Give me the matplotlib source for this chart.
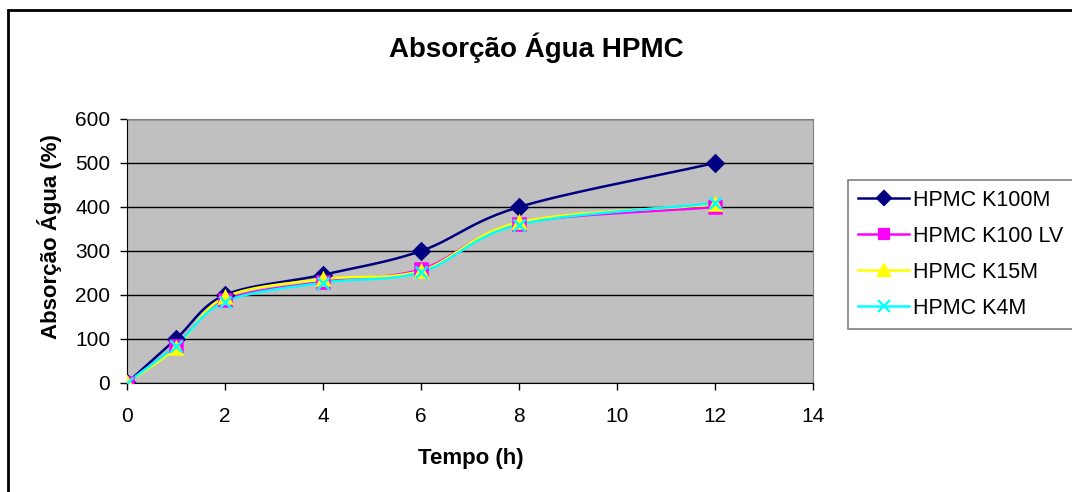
import numpy as np
import matplotlib.pyplot as plt
from matplotlib.patches import Rectangle

plt.rcParams['font.family'] = ['Liberation Sans', 'DejaVu Sans']

tempo = [0, 1, 2, 4, 6, 8, 12]
k100m = [0, 100, 200, 246, 300, 400, 500]
k100lv = [0, 85, 188, 230, 258, 362, 400]
k15m = [0, 80, 195, 236, 255, 365, 406]
k4m = [0, 85, 185, 228, 252, 360, 409]

series = [
    ("HPMC K100M", k100m, "#000080", "D", 8),
    ("HPMC K100 LV", k100lv, "#FF00FF", "s", 8),
    ("HPMC K15M", k15m, "#FFFF00", "^", 9),
    ("HPMC K4M", k4m, "#00FFFF", "x", 9),
]


def smooth(x, y, n=30):
    # curva suavizada tipo Excel (Catmull-Rom)
    x = np.asarray(x, float)
    y = np.asarray(y, float)
    px = np.concatenate([[2 * x[0] - x[1]], x, [2 * x[-1] - x[-2]]])
    py = np.concatenate([[2 * y[0] - y[1]], y, [2 * y[-1] - y[-2]]])
    xs, ys = [], []
    t = np.linspace(0, 1, n)
    for i in range(1, len(px) - 2):
        p0, p1, p2, p3 = px[i - 1], px[i], px[i + 1], px[i + 2]
        q0, q1, q2, q3 = py[i - 1], py[i], py[i + 1], py[i + 2]
        c1x, c1y = p1 + (p2 - p0) / 6, q1 + (q2 - q0) / 6
        c2x, c2y = p2 - (p3 - p1) / 6, q2 - (q3 - q1) / 6
        bx = (1 - t) ** 3 * p1 + 3 * (1 - t) ** 2 * t * c1x + 3 * (1 - t) * t ** 2 * c2x + t ** 3 * p2
        by = (1 - t) ** 3 * q1 + 3 * (1 - t) ** 2 * t * c1y + 3 * (1 - t) * t ** 2 * c2y + t ** 3 * q2
        xs.extend(bx)
        ys.extend(by)
    return xs, ys


fig = plt.figure(figsize=(10.72, 4.92), dpi=100)
ax = fig.add_axes([127 / 1072, 1 - 383 / 492, 686 / 1072, 264 / 492])
ax.set_facecolor("#C0C0C0")

for nome, vals, cor, mk, ms in series:
    sx, sy = smooth(tempo, vals)
    ax.plot(sx, sy, color=cor, lw=1.8, zorder=3)
    ax.plot(tempo, vals, linestyle="none", marker=mk, color=cor, ms=ms,
            mew=1.8, zorder=4)
    ax.plot([], [], color=cor, marker=mk, ms=ms - 1, mew=1.6, lw=1.8, label=nome)

ax.set_xlim(0, 14)
ax.set_ylim(0, 600)
ax.set_xticks(range(0, 15, 2))
ax.set_yticks(range(0, 601, 100))
ax.yaxis.grid(True, color="black", lw=1)
ax.set_axisbelow(True)
ax.tick_params(labelsize=15, direction="out", length=5, width=1)
ax.tick_params(axis="x", pad=12)
ax.tick_params(axis="y", pad=7)
for s in ["top", "right"]:
    ax.spines[s].set_color("#808080")
ax.spines["left"].set_color("black")
ax.spines["bottom"].set_color("black")

ax.set_xlabel("Tempo (h)", fontsize=16, fontweight="bold")
ax.set_ylabel("Absorção Água (%)", fontsize=16, fontweight="bold")
ax.xaxis.set_label_coords(0.5007, -0.246)
ax.yaxis.set_label_coords(-0.095, 0.553)
fig.text(0.5, 1 - 48 / 492, "Absorção Água HPMC", ha="center", va="center",
         fontsize=20, fontweight="bold")

leg = fig.legend(loc="upper left", bbox_to_anchor=(848 / 1072, 1 - 180 / 492),
                 fontsize=15.5, frameon=True, fancybox=False, handlelength=2.4,
                 labelspacing=0.7, borderaxespad=0, handletextpad=0.15,
                 borderpad=0.45)
leg.get_frame().set_edgecolor("#606060")
leg.get_frame().set_linewidth(1.2)

# moldura exterior do gráfico
fig.patches.append(Rectangle((8 / 1072, -0.1), 1.2, 1 - 10 / 492 + 0.1,
                             transform=fig.transFigure, fill=False,
                             edgecolor="black", lw=2, clip_on=False))

fig.savefig("out.png", dpi=100)
